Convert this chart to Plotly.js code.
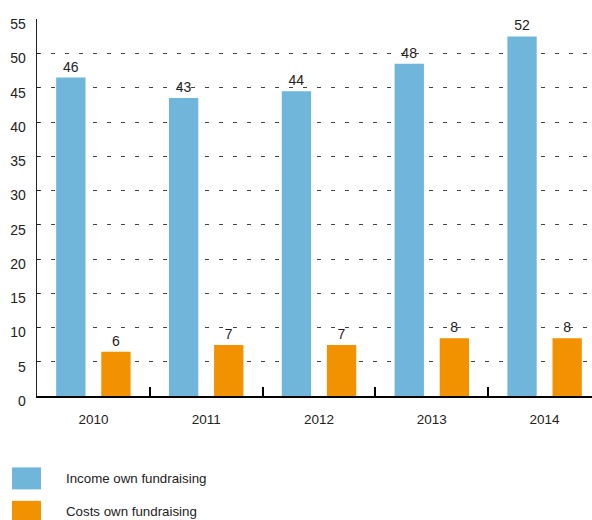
<!DOCTYPE html>
<html>
<head>
<meta charset="utf-8">
<script src="https://cdn.plot.ly/plotly-3.0.1.min.js"></script>
<style>
html,body{margin:0;padding:0;overflow:hidden;background:#fff;}
#chart{width:601px;height:520px;}
</style>
</head>
<body>
<div id="chart"></div>
<script>
const years = ['2010', '2011', '2012', '2013', '2014'];
const incomeValues = [46.5, 43.5, 44.5, 48.5, 52.5];
const incomeLabels = ['46', '43', '44', '48', '52'];
const costsValues = [6.45, 7.45, 7.45, 8.45, 8.45];
const costsLabels = ['6', '7', '7', '8', '8'];
const seriesNames = ['Income own fundraising', 'Costs own fundraising'];
const seriesColors = ['#70b5da', '#f39200'];
const yTicks = [0, 5, 10, 15, 20, 25, 30, 35, 40, 45, 50, 55];

const W = 601, H = 520, L = 37, T = 19, B = 123.5, R = 0;
const pw = W - L - R, ph = H - T - B;
const px2x = p => (p - L) / pw;
const py2y = p => (H - B - p) / ph;

const fontFam = '"Liberation Sans", Arial, Helvetica, sans-serif';

const traces = [
  {type: 'bar', x: years, y: incomeValues, text: incomeLabels, name: seriesNames[0],
   marker: {color: seriesColors[0]}, textposition: 'outside', cliponaxis: false,
   textfont: {size: 14, color: '#222', family: fontFam}, hoverinfo: 'none'},
  {type: 'bar', x: years, y: costsValues, text: costsLabels, name: seriesNames[1],
   marker: {color: seriesColors[1]}, textposition: 'outside', cliponaxis: false,
   textfont: {size: 14, color: '#222', family: fontFam}, hoverinfo: 'none'}
];

const legendRows = [479, 512.5];
const shapes = [], annotations = [];
seriesNames.forEach((n, i) => {
  const cy = legendRows[i];
  shapes.push({type: 'rect', xref: 'paper', yref: 'paper',
    x0: px2x(12), x1: px2x(41), y0: py2y(cy + 11), y1: py2y(cy - 11),
    fillcolor: seriesColors[i], line: {width: 0}});
  annotations.push({xref: 'paper', yref: 'paper', x: px2x(64), y: py2y(cy),
    xanchor: 'left', yanchor: 'middle', text: n, showarrow: false,
    font: {size: 13.3, color: '#222', family: fontFam}});
});

const layout = {
  width: W, height: H,
  margin: {l: L, r: R, t: T, b: B, pad: 0},
  paper_bgcolor: '#fff', plot_bgcolor: '#fff',
  showlegend: false,
  barmode: 'group', bargap: 0.2, bargroupgap: 0.35,
  font: {family: fontFam, color: '#222'},
  xaxis: {
    type: 'category', showgrid: false, zeroline: false,
    showline: true, linecolor: '#000', linewidth: 2,
    ticks: 'inside', tickson: 'boundaries', ticklen: 9, tickwidth: 2, tickcolor: '#000',
    ticklabelstandoff: 10,
    tickfont: {size: 13.5, color: '#222', family: fontFam},
    fixedrange: true
  },
  yaxis: {
    range: [0, 55.05], tickvals: yTicks, ticktext: yTicks.map(String),
    showgrid: true, gridcolor: '#444', gridwidth: 1, griddash: '4px,10px',
    zeroline: false, showline: true, linecolor: '#222', linewidth: 1.3,
    ticks: 'inside', ticklen: 3, tickwidth: 1, tickcolor: '#222',
    ticklabelstandoff: 7, ticklabelshift: 5,
    tickfont: {size: 14, color: '#222', family: fontFam},
    fixedrange: true
  },
  shapes: shapes,
  annotations: annotations
};

Plotly.newPlot('chart', traces, layout, {displayModeBar: false, staticPlot: true});
</script>
</body>
</html>
